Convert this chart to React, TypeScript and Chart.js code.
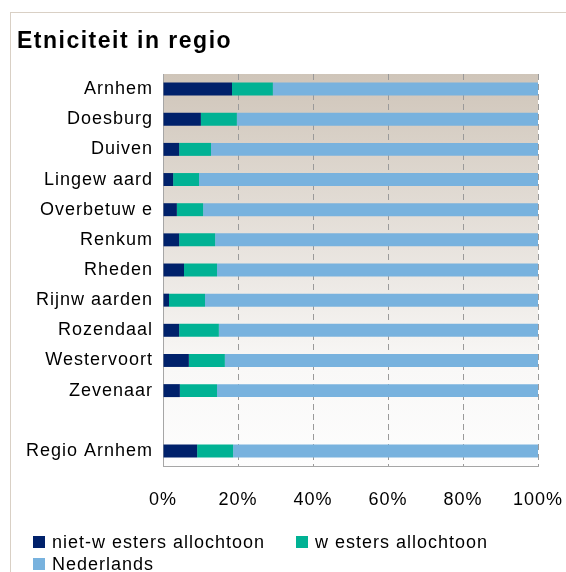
import React, { useEffect, useRef } from "react";
import { Chart, registerables } from "chart.js";

Chart.register(...registerables);

const categories = [
  "Arnhem",
  "Doesburg",
  "Duiven",
  "Lingew aard",
  "Overbetuw e",
  "Renkum",
  "Rheden",
  "Rijnw aarden",
  "Rozendaal",
  "Westervoort",
  "Zevenaar",
  "",
  "Regio Arnhem",
];

const nietWesters = [18.4, 10.1, 4.3, 2.7, 3.7, 4.3, 5.6, 1.6, 4.3, 6.9, 4.5, null, 9.1];
const westers = [10.9, 9.6, 8.5, 6.9, 7.0, 9.6, 8.8, 9.6, 10.6, 9.6, 9.9, null, 9.6];
const nederlands = [70.7, 80.3, 87.2, 90.4, 89.3, 86.1, 85.6, 88.8, 85.1, 83.5, 85.6, null, 81.3];

const xTicks = [0, 20, 40, 60, 80, 100];

const seriesNames = ["niet-w esters allochtoon", "w esters allochtoon", "Nederlands"];
const seriesColors = ["#00216B", "#00B294", "#78B2DE"];

const FONT = "'Liberation Sans', Arial, sans-serif";

export default function App() {
  const ref = useRef<HTMLCanvasElement | null>(null);

  useEffect(() => {
    if (!ref.current) return;
    const spacingPlugin = {
      id: "spacing",
      beforeInit(chart: any) {
        chart.ctx.letterSpacing = "1px";
      },
      beforeLayout(chart: any) {
        chart.ctx.letterSpacing = "1px";
      },
      beforeDraw(chart: any) {
        chart.ctx.letterSpacing = "1px";
      },
    };
    const bgPlugin = {
      id: "plotBg",
      beforeDraw(chart: any) {
        const { ctx, chartArea } = chart;
        if (!chartArea) return;
        const g = ctx.createLinearGradient(0, chartArea.top, 0, chartArea.bottom);
        g.addColorStop(0, "#CFC5B9");
        g.addColorStop(0.75, "#F9F8F7");
        g.addColorStop(1, "#FDFDFD");
        ctx.save();
        ctx.fillStyle = g;
        ctx.fillRect(chartArea.left, chartArea.top, chartArea.right - chartArea.left, chartArea.bottom - chartArea.top);
        ctx.restore();
      },
    };
    const datasets = [nietWesters, westers, nederlands].map((d, i) => ({
      label: seriesNames[i],
      data: d,
      backgroundColor: seriesColors[i],
      borderWidth: 0,
      barPercentage: 0.43,
      categoryPercentage: 1,
    }));
    const chart = new Chart(ref.current, {
      type: "bar",
      data: { labels: categories, datasets },
      plugins: [spacingPlugin, bgPlugin],
      options: {
        indexAxis: "y",
        animation: false,
        responsive: false,
        maintainAspectRatio: false,
        layout: { padding: { top: 74, right: 28, left: 0, bottom: 0 } },
        plugins: {
          legend: { display: false },
          title: { display: false },
          tooltip: { enabled: false },
        },
        scales: {
          x: {
            stacked: true,
            min: 0,
            max: 100,
            afterBuildTicks(scale: any) {
              scale.ticks = xTicks.map((v) => ({ value: v }));
            },
            afterFit(scale: any) {
              scale.height = 106;
              scale.paddingLeft = 0;
              scale.paddingRight = 0;
            },
            ticks: {
              padding: 23,
              color: "#000",
              font: { family: FONT, size: 18 },
              callback: (v: any) => v + "%",
              maxRotation: 0,
            },
            grid: { display: true, color: "#9A9A9A", lineWidth: 1, drawTicks: false },
            border: { display: true, color: "#A6A6A6", width: 1, dash: [6, 4] },
          },
          y: {
            stacked: true,
            afterFit(scale: any) {
              scale.width = 163;
              scale.paddingTop = 0;
              scale.paddingBottom = 0;
            },
            ticks: {
              padding: 10,
              color: "#000",
              font: { family: FONT, size: 18 },
              autoSkip: false,
            },
            grid: { display: false, drawTicks: false },
            border: { display: true, color: "#A6A6A6", width: 1 },
          },
        },
      },
    });
    return () => chart.destroy();
  }, []);

  const legendItem = (i: number, left: number, top: number) => (
    <div
      key={i}
      style={{ position: "absolute", left, top, display: "flex", alignItems: "center", height: 20 }}
    >
      <div style={{ width: 12, height: 12, background: seriesColors[i], marginRight: 7 }} />
      <span style={{ fontFamily: FONT, fontSize: 18, letterSpacing: "1px", color: "#000", whiteSpace: "nowrap" }}>
        {seriesNames[i]}
      </span>
    </div>
  );

  return (
    <div style={{ position: "fixed", left: 0, top: 0, width: 566, height: 572, background: "#fff", overflow: "hidden" }}>
      <div
        style={{
          position: "absolute",
          left: 10,
          top: 12,
          width: 600,
          height: 600,
          borderTop: "1px solid #D9D0C5",
          borderLeft: "1px solid #D9D0C5",
        }}
      />
      <canvas ref={ref} width={566} height={572} style={{ position: "absolute", left: 0, top: 0, width: 566, height: 572 }} />
      <div
        style={{
          position: "absolute",
          left: 17,
          top: 27,
          fontFamily: FONT,
          fontSize: 23,
          letterSpacing: "1.5px",
          fontWeight: "bold",
          color: "#000",
          whiteSpace: "nowrap",
        }}
      >
        Etniciteit in regio
      </div>
      {legendItem(0, 33, 532)}
      {legendItem(1, 296, 532)}
      {legendItem(2, 33, 554)}
    </div>
  );
}
